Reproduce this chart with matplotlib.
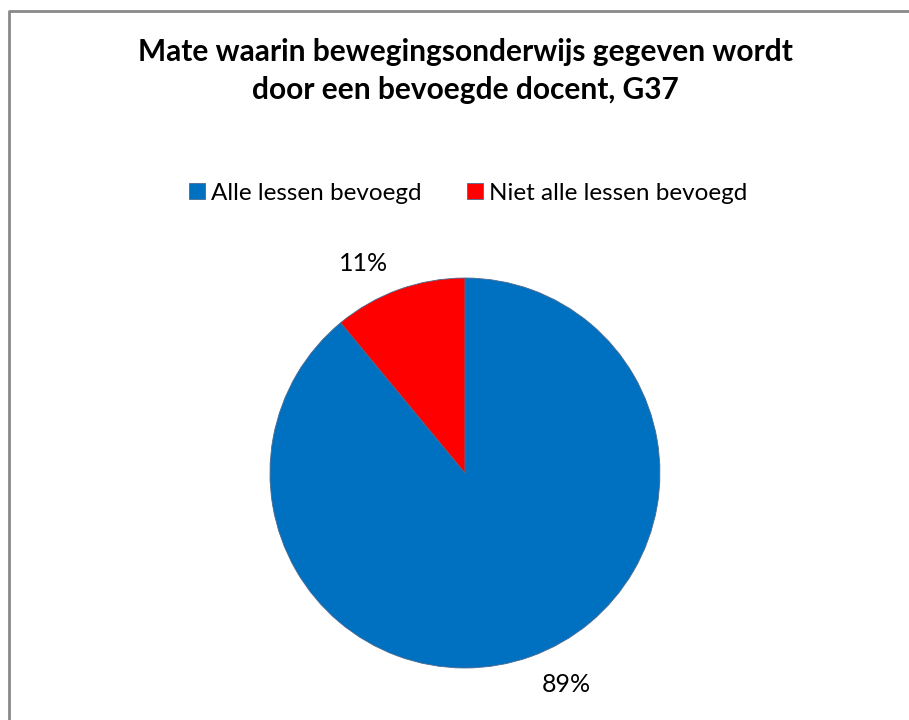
import matplotlib.pyplot as plt
from matplotlib.lines import Line2D

plt.rcParams['font.family'] = ['Lato', 'DejaVu Sans']

titel = "Mate waarin bewegingsonderwijs gegeven wordt\ndoor een bevoegde docent, G37"
categorieen = ["Alle lessen bevoegd", "Niet alle lessen bevoegd"]
percentages = [89, 11]
kleuren = ['#0070C0', '#FF0000']

fig = plt.figure(figsize=(9.09, 7.2), dpi=100)

# grijze rand (boven en links zichtbaar)
fig.lines.append(Line2D([9 / 909, 9 / 909, 1.0], [0.0, 1 - 11 / 720, 1 - 11 / 720],
                        transform=fig.transFigure, color='#898989', linewidth=2))

fig.text(465 / 909, 1 - 71 / 720, titel, ha='center', va='center',
         fontsize=21.5, fontweight='bold', linespacing=1.4)

ax = fig.add_axes([0.297, 0.0722, 0.429, 0.5417])
wedges, _ = ax.pie(percentages, colors=kleuren, startangle=90, counterclock=False,
                   wedgeprops=dict(edgecolor='#4a6a90', linewidth=0.6))
ax.set_xlim(-1, 1)
ax.set_ylim(-1, 1)
ax.set_aspect('equal')
ax.axis('off')

# percentage labels
posities = [(0.52, -1.085), (-0.518, 1.072)]
for p, (x, y) in zip(percentages, posities):
    ax.text(x, y, f"{p}%", ha='center', va='center', fontsize=18, clip_on=False)

fig.legend(wedges, categorieen, loc='center', bbox_to_anchor=(468 / 909, 1 - 193 / 720),
           ncol=2, frameon=False, fontsize=17.5, handlelength=0.66, handleheight=0.66,
           handletextpad=0.25, columnspacing=1.85)

plt.savefig("out.png", dpi=100)
plt.close()
